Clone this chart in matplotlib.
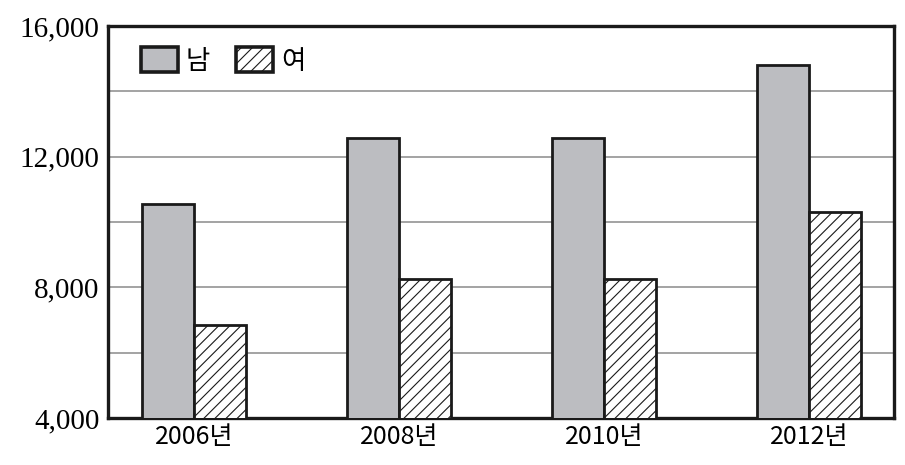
import numpy as np
import matplotlib.pyplot as plt
from matplotlib.ticker import FixedLocator

# 연도별 남/여 수치
years = ["2006년", "2008년", "2010년", "2012년"]
male = [10560, 12580, 12570, 14810]
female = [6840, 8270, 8270, 10300]
y_labels = ["4,000", "8,000", "12,000", "16,000"]

plt.rcParams["font.family"] = ["Noto Sans CJK KR", "DejaVu Sans"]
plt.rcParams["hatch.linewidth"] = 0.8

fig = plt.figure(figsize=(9.05, 4.65), dpi=100)
ax = fig.add_axes([108 / 905, 1 - 418 / 465, 786 / 905, 392 / 465])

x = np.arange(len(years))
w = 0.254
ax.bar(x - w / 2, male, w, color="#bcbdc1", edgecolor="#1a1a1a",
       linewidth=2.0, label="남", zorder=3)
ax.bar(x + w / 2, female, w, color="white", edgecolor="#1a1a1a", hatch="///",
       linewidth=2.0, label="여", zorder=3)

ax.set_ylim(4000, 16000)
ax.set_xlim(-0.42, 3.415)

ax.yaxis.set_major_locator(FixedLocator([4000, 8000, 12000, 16000]))
ax.set_yticklabels(y_labels, family="Liberation Serif", fontsize=21)
ax.yaxis.set_minor_locator(FixedLocator([6000, 10000, 14000]))
ax.grid(axis="y", which="both", color="#8a8a8a", linewidth=1.1, zorder=0)

ax.set_xticks(x)
ax.set_xticklabels(years, fontsize=18)
ax.tick_params(axis="both", which="both", length=0)
ax.tick_params(axis="y", pad=6)
ax.tick_params(axis="x", pad=4)

for s in ax.spines.values():
    s.set_linewidth(2.4)
    s.set_color("#1a1a1a")

leg = ax.legend(loc="upper left", ncol=2, frameon=False, fontsize=19,
                handlelength=1.4, handleheight=1.1, handletextpad=0.3,
                columnspacing=1.0, bbox_to_anchor=(0.015, 1.0), borderaxespad=0.4)
for p in leg.get_patches():
    p.set_linewidth(2.6)

fig.savefig("out.png", dpi=100)
